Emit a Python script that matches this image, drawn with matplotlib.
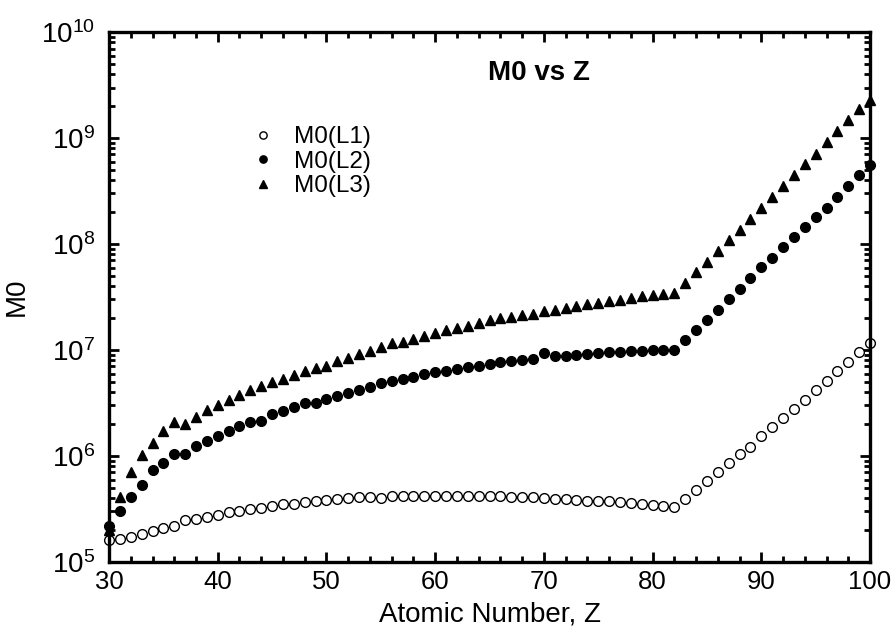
import numpy as np
import matplotlib
matplotlib.use("Agg")
import matplotlib.pyplot as plt
from matplotlib.ticker import LogLocator, MultipleLocator, NullFormatter, FuncFormatter

plt.rcParams['font.family'] = ['Liberation Sans', 'DejaVu Sans']
plt.rcParams['mathtext.fontset'] = 'custom'
plt.rcParams['mathtext.rm'] = 'Liberation Sans'
plt.rcParams['mathtext.it'] = 'Liberation Sans:italic'
plt.rcParams['mathtext.bf'] = 'Liberation Sans:bold'

# atomic numbers
Z = np.arange(30, 101)

# M0 values
m0_L1 = [1.61e5, 1.64e5, 1.73e5, 1.84e5, 1.97e5, 2.09e5, 2.20e5, 2.49e5, 2.56e5, 2.64e5,
         2.78e5, 2.94e5, 3.05e5, 3.16e5, 3.23e5, 3.35e5, 3.50e5, 3.55e5, 3.65e5, 3.73e5,
         3.87e5, 3.93e5, 4.00e5, 4.07e5, 4.07e5, 4.05e5, 4.20e5, 4.20e5, 4.20e5, 4.22e5,
         4.20e5, 4.22e5, 4.22e5, 4.22e5, 4.20e5, 4.20e5, 4.18e5, 4.12e5, 4.07e5, 4.07e5,
         4.00e5, 3.95e5, 3.90e5, 3.85e5, 3.80e5, 3.73e5, 3.73e5, 3.65e5, 3.60e5, 3.53e5,
         3.45e5, 3.35e5, 3.28e5, 3.95e5, 4.78e5, 5.80e5, 7.07e5, 8.50e5, 1.05e6, 1.22e6,
         1.53e6, 1.87e6, 2.28e6, 2.80e6, 3.40e6, 4.20e6, 5.10e6, 6.30e6, 7.70e6, 9.60e6,
         1.16e7]
m0_L2 = [2.2e5, 3.0e5, 4.1e5, 5.3e5, 7.4e5, 8.5e5, 1.04e6, 1.04e6, 1.23e6, 1.38e6,
         1.55e6, 1.73e6, 1.92e6, 2.1e6, 2.15e6, 2.5e6, 2.65e6, 2.9e6, 3.15e6, 3.15e6,
         3.45e6, 3.7e6, 3.9e6, 4.2e6, 4.45e6, 4.9e6, 5.1e6, 5.3e6, 5.6e6, 5.9e6,
         6.2e6, 6.4e6, 6.6e6, 6.9e6, 7.1e6, 7.4e6, 7.7e6, 7.9e6, 8.1e6, 8.3e6,
         9.3e6, 8.7e6, 8.8e6, 9.0e6, 9.1e6, 9.4e6, 9.5e6, 9.6e6, 9.7e6, 9.8e6,
         1.0e7, 1.01e7, 1.0e7, 1.24e7, 1.55e7, 1.9e7, 2.4e7, 3.0e7, 3.8e7, 4.8e7,
         6.1e7, 7.4e7, 9.3e7, 1.16e8, 1.44e8, 1.8e8, 2.2e8, 2.8e8, 3.5e8, 4.5e8,
         5.6e8]
m0_L3 = [2.0e5, 4.1e5, 7.1e5, 1.02e6, 1.34e6, 1.73e6, 2.1e6, 2.0e6, 2.35e6, 2.7e6,
         3.0e6, 3.4e6, 3.8e6, 4.2e6, 4.6e6, 5.0e6, 5.3e6, 5.8e6, 6.4e6, 6.7e6,
         7.0e6, 7.8e6, 8.4e6, 9.2e6, 9.8e6, 1.07e7, 1.16e7, 1.2e7, 1.28e7, 1.35e7,
         1.45e7, 1.54e7, 1.6e7, 1.7e7, 1.8e7, 1.9e7, 2.0e7, 2.05e7, 2.15e7, 2.2e7,
         2.35e7, 2.4e7, 2.5e7, 2.6e7, 2.7e7, 2.8e7, 2.9e7, 2.95e7, 3.1e7, 3.2e7,
         3.3e7, 3.4e7, 3.45e7, 4.3e7, 5.4e7, 6.8e7, 8.6e7, 1.09e8, 1.37e8, 1.74e8,
         2.2e8, 2.8e8, 3.5e8, 4.5e8, 5.7e8, 7.1e8, 9.1e8, 1.17e9, 1.48e9, 1.9e9,
         2.3e9]

fig = plt.figure(figsize=(8.96, 6.32), dpi=100)
ax = fig.add_axes([0.1217, 0.1108, 0.8493, 0.8384])

ms = 7
ax.plot(Z, m0_L1, 'o', ms=ms, mfc='white', mec='black', mew=1.0, clip_on=False, label='M0(L1)')
ax.plot(Z, m0_L2, 'o', ms=ms, mfc='black', mec='black', mew=1.0, clip_on=False, label='M0(L2)')
ax.plot(Z, m0_L3, '^', ms=ms, mfc='black', mec='black', mew=1.0, clip_on=False, label='M0(L3)')

ax.set_xlim(30, 100)
ax.set_yscale('log')
ax.set_ylim(1e5, 1e10)

ax.xaxis.set_major_locator(MultipleLocator(10))
ax.xaxis.set_minor_locator(MultipleLocator(2))
ax.yaxis.set_major_locator(LogLocator(base=10, numticks=10))
ax.yaxis.set_minor_locator(LogLocator(base=10, subs=np.arange(2, 10), numticks=20))
ax.yaxis.set_minor_formatter(NullFormatter())
ax.yaxis.set_major_formatter(FuncFormatter(
    lambda v, p: r'$\mathregular{10^{%d}}$' % round(np.log10(v))))

for s in ax.spines.values():
    s.set_linewidth(2.4)
ax.tick_params(which='both', direction='in', top=True, right=True, labelsize=18.5)
ax.tick_params(which='major', length=7, width=2)
ax.tick_params(which='minor', length=4, width=2)
ax.tick_params(axis='x', which='major', pad=6)
ax.tick_params(axis='y', which='major', pad=10, labelsize=20)

ax.set_xlabel('Atomic Number, Z', fontsize=20, labelpad=5)
ax.set_ylabel('M0', fontsize=20, labelpad=8)

ax.text(0.565, 0.923, 'M0 vs Z', transform=ax.transAxes, ha='center', va='center',
        fontsize=20, fontweight='bold')

ax.legend(loc='upper left', bbox_to_anchor=(0.1866, 0.822), frameon=False, fontsize=17.5,
          handlelength=1.0, handletextpad=0.75, borderpad=0, borderaxespad=0,
          labelspacing=0.1, markerscale=0.75)

fig.savefig('out.png', dpi=100)
